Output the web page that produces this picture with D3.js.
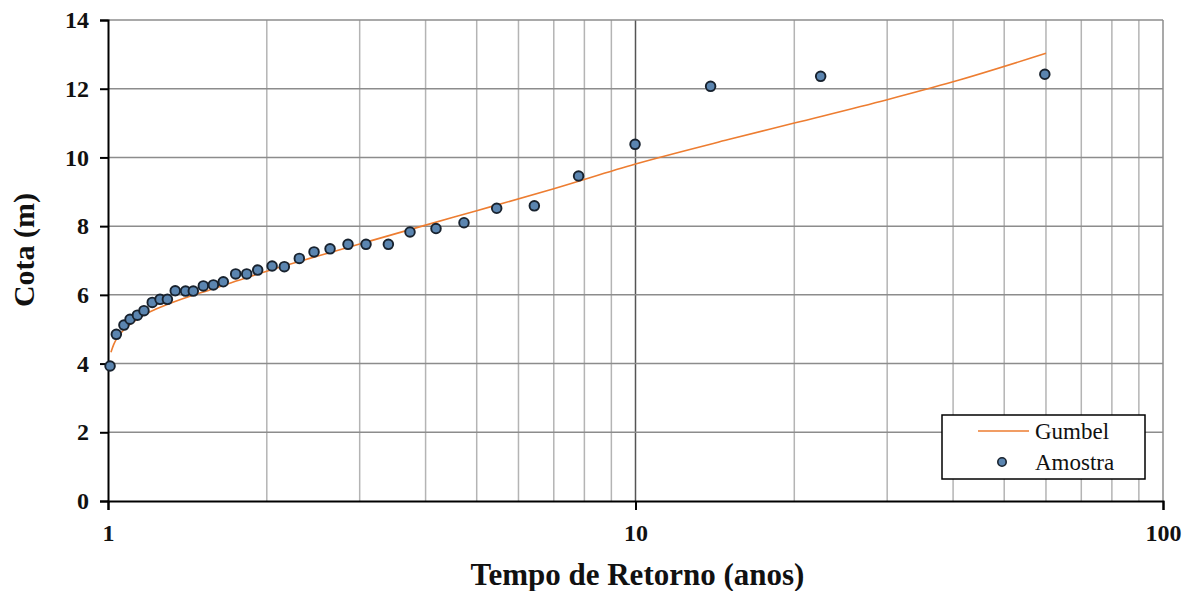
<!DOCTYPE html>
<html>
<head>
<meta charset="utf-8">
<script src="https://cdn.jsdelivr.net/npm/d3@7"></script>
<style>
  body { margin: 0; background: #fff; }
  text { font-family: "Liberation Serif", "Times New Roman", serif; }
</style>
</head>
<body>
<div id="chart_root"></div>
<script>
const widthValue = 1194;
const heightValue = 591;
const pad = { left: 108, right: 31, top: 20, bottom: 90 };

// sample (Amostra): return period (anos) and cota (m)
const sampleT = [1.009, 1.037, 1.072, 1.101, 1.137, 1.170, 1.213, 1.255, 1.296, 1.341,
  1.403, 1.451, 1.516, 1.584, 1.654, 1.746, 1.832, 1.922, 2.047, 2.159,
  2.305, 2.458, 2.636, 2.851, 3.084, 3.400, 3.737, 4.186, 4.73, 5.456,
  6.43, 7.80, 9.98, 13.88, 22.44, 59.7];
const sampleCota = [3.93, 4.85, 5.12, 5.29, 5.41, 5.54, 5.78, 5.87, 5.87, 6.12,
  6.11, 6.11, 6.26, 6.29, 6.38, 6.61, 6.61, 6.72, 6.84, 6.82,
  7.06, 7.25, 7.34, 7.47, 7.47, 7.47, 7.83, 7.93, 8.10, 8.52,
  8.59, 9.46, 10.38, 12.07, 12.36, 12.42];

// Gumbel curve
const gumbelT = [1.013, 1.025, 1.04, 1.07, 1.11, 1.17, 1.23, 1.32, 1.43, 1.55,
  1.75, 2, 2.5, 3, 4, 5, 7, 10, 15, 20, 30, 40, 60];
const gumbelCota = [4.33, 4.55, 4.74, 4.97, 5.18, 5.42, 5.58, 5.77, 5.96, 6.13,
  6.40, 6.69, 7.13, 7.48, 8.03, 8.45, 9.09, 9.81, 10.52, 11.00, 11.68, 12.20, 13.03];

const yTicks = [0, 2, 4, 6, 8, 10, 12, 14];
const xMajor = [1, 10, 100];
const xMinor = [2, 3, 4, 5, 6, 7, 8, 9, 20, 30, 40, 50, 60, 70, 80, 90];

const svg = d3.select("#chart_root")
  .append("svg")
  .attr("width", widthValue)
  .attr("height", heightValue);

const xScale = d3.scaleLog().domain([1, 100]).range([pad.left, widthValue - pad.right]);
const yScale = d3.scaleLinear().domain([0, 14]).range([heightValue - pad.bottom, pad.top]);

const x0 = xScale.range()[0], x1 = xScale.range()[1];
const y0 = yScale.range()[0], y1 = yScale.range()[1];

// minor vertical gridlines
svg.append("g")
  .selectAll("line")
  .data(xMinor)
  .join("line")
  .attr("x1", d => xScale(d)).attr("x2", d => xScale(d))
  .attr("y1", y1).attr("y2", y0)
  .attr("stroke", "#b4b4b4")
  .attr("stroke-width", 1.5);

// major vertical gridlines
svg.append("g")
  .selectAll("line")
  .data(xMajor.slice(1))
  .join("line")
  .attr("x1", d => xScale(d)).attr("x2", d => xScale(d))
  .attr("y1", y1).attr("y2", y0)
  .attr("stroke", d => d === 10 ? "#555" : "#8c8c8c")
  .attr("stroke-width", 1.5);

// horizontal gridlines
svg.append("g")
  .selectAll("line")
  .data(yTicks.slice(1))
  .join("line")
  .attr("x1", x0).attr("x2", x1)
  .attr("y1", d => yScale(d)).attr("y2", d => yScale(d))
  .attr("stroke", "#8c8c8c")
  .attr("stroke-width", 1.5);

// Y axis
const yAxis = svg.append("g")
  .attr("transform", "translate(" + x0 + ",0)")
  .call(d3.axisLeft(yScale).tickValues(yTicks).tickSize(8).tickPadding(11).tickFormat(d3.format("d")));
yAxis.select(".domain").attr("stroke", "#000").attr("stroke-width", 2);
yAxis.selectAll(".tick line").attr("stroke", "#000").attr("stroke-width", 2);
yAxis.selectAll("text")
  .attr("font-family", "Liberation Serif")
  .attr("font-size", 24)
  .attr("font-weight", "bold")
  .attr("fill", "#111");

// X axis
const xAxis = svg.append("g")
  .attr("transform", "translate(0," + y0 + ")")
  .call(d3.axisBottom(xScale).tickValues(xMajor).tickSize(9).tickPadding(14).tickFormat(d3.format("d")));
xAxis.select(".domain").attr("stroke", "#000").attr("stroke-width", 2);
xAxis.selectAll(".tick line").attr("stroke", "#000").attr("stroke-width", 2);
xAxis.selectAll("text")
  .attr("font-family", "Liberation Serif")
  .attr("font-size", 24)
  .attr("font-weight", "bold")
  .attr("fill", "#111");

// Gumbel line
const gumbel = gumbelT.map((t, i) => ({ t: t, v: gumbelCota[i] }));
svg.append("path")
  .datum(gumbel)
  .attr("fill", "none")
  .attr("stroke", "#ed7d31")
  .attr("stroke-width", 1.6)
  .attr("d", d3.line()
    .x(d => xScale(d.t))
    .y(d => yScale(d.v))
    .curve(d3.curveMonotoneX));

// sample points
const sample = sampleT.map((t, i) => ({ t: t, v: sampleCota[i] }));
svg.append("g")
  .selectAll("circle")
  .data(sample)
  .join("circle")
  .attr("cx", d => xScale(d.t))
  .attr("cy", d => yScale(d.v))
  .attr("r", 4.8)
  .attr("fill", "#5b85b0")
  .attr("stroke", "#18222e")
  .attr("stroke-width", 1.9);

// axis titles
svg.append("text")
  .attr("x", (x0 + x1) / 2 + 2)
  .attr("y", 585)
  .attr("text-anchor", "middle")
  .attr("font-size", 31)
  .attr("font-weight", "bold")
  .attr("fill", "#111")
  .text("Tempo de Retorno (anos)");

svg.append("text")
  .attr("transform", "translate(34," + 250 + ") rotate(-90)")
  .attr("text-anchor", "middle")
  .attr("font-size", 30)
  .attr("font-weight", "bold")
  .attr("fill", "#111")
  .text("Cota (m)");

// legend
const legend = svg.append("g").attr("transform", "translate(942,415)");
legend.append("rect")
  .attr("width", 203).attr("height", 64)
  .attr("fill", "#fff")
  .attr("stroke", "#000")
  .attr("stroke-width", 1.5);
legend.append("line")
  .attr("x1", 36).attr("x2", 87)
  .attr("y1", 16).attr("y2", 16)
  .attr("stroke", "#ed7d31")
  .attr("stroke-width", 1.6);
legend.append("text")
  .attr("x", 93).attr("y", 24)
  .attr("font-size", 23)
  .attr("fill", "#111")
  .text("Gumbel");
legend.append("circle")
  .attr("cx", 60).attr("cy", 47)
  .attr("r", 4.2)
  .attr("fill", "#5b85b0")
  .attr("stroke", "#18222e")
  .attr("stroke-width", 1.6);
legend.append("text")
  .attr("x", 93).attr("y", 55)
  .attr("font-size", 23)
  .attr("fill", "#111")
  .text("Amostra");
</script>
</body>
</html>
